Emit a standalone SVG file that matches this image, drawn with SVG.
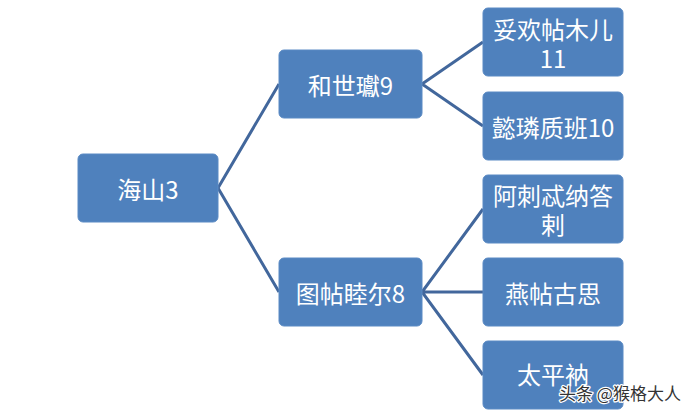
<svg xmlns="http://www.w3.org/2000/svg" width="700" height="416" viewBox="0 0 700 416">
<style>
.box{fill:#4F81BD;stroke:#5A8AC4;stroke-width:1}
.t{fill:#FFFFFF;font-family:"Noto Sans CJK SC","Noto Sans",sans-serif;font-size:24px;text-anchor:middle;dominant-baseline:central}
.c{stroke:#42679C;stroke-width:3;fill:none}
.wm{font-family:"Noto Sans CJK SC",sans-serif;font-size:17px;fill:#333333;stroke:#FFFFFF;stroke-width:2.5;paint-order:stroke;stroke-linejoin:round}
</style>
<rect width="700" height="416" fill="#FFFFFF"/>
<g id="connectors">
<path class="c" d="M279,84 L218,188 L279,292"/>
<path class="c" d="M483,42 L422,84 L483,126"/>
<path class="c" d="M483,209 L422,292 L483,375 M422,292 L483,292"/>
</g>
<g id="n-root"><rect class="box" x="78" y="154" width="140" height="68" rx="5"/><text class="t" x="148" y="188">海山3</text></g>
<g id="n-a"><rect class="box" x="279" y="50" width="143" height="68" rx="5"/><text class="t" x="350.5" y="84">和世瓛9</text></g>
<g id="n-b"><rect class="box" x="279" y="258" width="143" height="68" rx="5"/><text class="t" x="350.5" y="292">图帖睦尔8</text></g>
<g id="n-a1"><rect class="box" x="483" y="8" width="140" height="68" rx="5"/><text class="t" x="553" y="28">妥欢帖木儿<tspan x="553" dy="29">11</tspan></text></g>
<g id="n-a2"><rect class="box" x="483" y="92" width="140" height="68" rx="5"/><text class="t" x="553" y="126">懿璘质班10</text></g>
<g id="n-b1"><rect class="box" x="483" y="175" width="140" height="68" rx="5"/><text class="t" x="553" y="194">阿刺忒纳答<tspan x="553" dy="29">剌</tspan></text></g>
<g id="n-b2"><rect class="box" x="483" y="258" width="140" height="68" rx="5"/><text class="t" x="553" y="292">燕帖古思</text></g>
<g id="n-b3"><rect class="box" x="483" y="341" width="140" height="68" rx="5"/><text class="t" x="553" y="373">太平衲</text></g>
<text class="wm" x="559" y="400">头条 @猴格大人</text>
</svg>
